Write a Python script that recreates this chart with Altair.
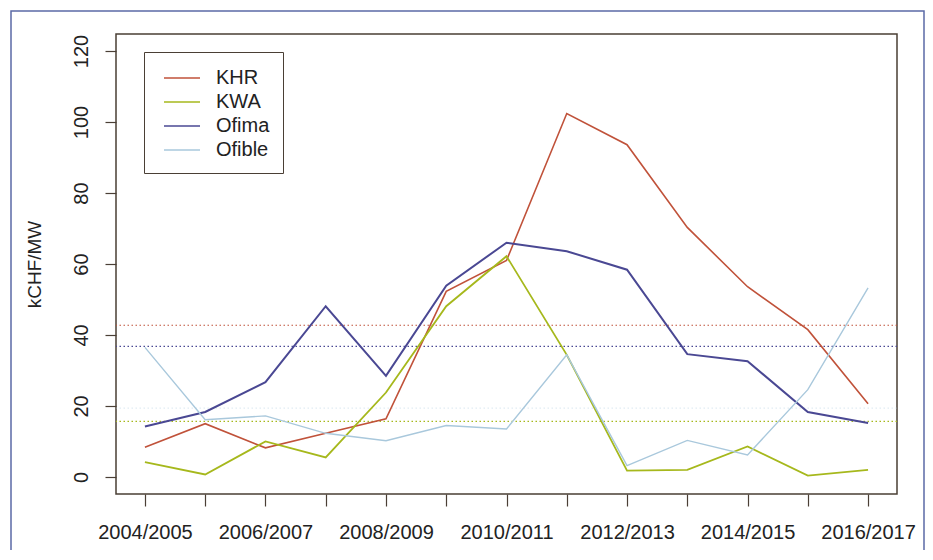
import json
import altair as alt
import pandas as pd

seasons = ["2004/2005", "2005/2006", "2006/2007", "2007/2008", "2008/2009",
           "2009/2010", "2010/2011", "2011/2012", "2012/2013", "2013/2014",
           "2014/2015", "2015/2016", "2016/2017"]
series_names = ["KHR", "KWA", "Ofima", "Ofible"]
khr = [8.4, 15.0, 8.2, 12.3, 16.4, 52.3, 61.0, 102.4, 93.6, 70.3, 53.6, 41.5, 20.6]
kwa = [4.2, 0.7, 10.0, 5.5, 23.8, 48.1, 62.2, 34.4, 1.8, 2.0, 8.6, 0.4, 2.0]
ofima = [14.2, 18.3, 26.7, 48.1, 28.5, 53.9, 66.0, 63.6, 58.4, 34.6, 32.6, 18.3, 15.2]
ofible = [36.5, 16.1, 17.2, 12.3, 10.2, 14.5, 13.5, 34.4, 3.2, 10.3, 6.2, 24.6, 53.3]
colors = ["#c0523a", "#a6b81c", "#4a4893", "#a9c8dc"]
widths = [1.6, 1.8, 2.0, 1.4]
y_ticks = [0, 20, 40, 60, 80, 100, 120]

rows = []
for name, vals in zip(series_names, [khr, kwa, ofima, ofible]):
    for i, (s, v) in enumerate(zip(seasons, vals)):
        rows.append({"season": s, "idx": i + 1, "series": name, "value": v})
df = pd.DataFrame(rows)

color_scale = alt.Scale(domain=series_names, range=colors)
x_enc = alt.X("idx:Q",
              scale=alt.Scale(domain=[0.52, 13.48], nice=False, zero=False),
              axis=alt.Axis(values=list(range(1, 14)), title=None,
                            labelExpr="datum.value % 2 == 1 ? " + json.dumps(seasons) + "[datum.value - 1] : ''",
                            labelBaseline="alphabetic", labelPadding=32, labelAlign="center",
                            tickSize=12, labelOverlap=False))
y_scale = alt.Scale(domain=[-4.8, 124.8], nice=False, zero=False)
y_axis = alt.Axis(values=y_ticks, title="kCHF/MW", labelAngle=270,
                  labelAlign="center", labelBaseline="alphabetic",
                  labelPadding=18, tickSize=11,
                  titleAngle=270, titleAlign="center", titleBaseline="alphabetic",
                  titleX=-76, titleY=230)
legend = alt.Legend(title=None, orient="none", legendX=28, legendY=18,
                    symbolType="M-0.5,0H2.5", symbolSize=576,
                    symbolStrokeWidth=1.6, labelOffset=33,
                    labelFontSize=20, labelFont="Liberation Sans",
                    labelColor="#222222", padding=13, rowPadding=1,
                    strokeColor="#4a3f35", fillColor="white")

line_layers = []
for name, w in zip(series_names, widths):
    line_layers.append(
        alt.Chart(df).transform_filter(alt.datum.series == name).mark_line(strokeWidth=w).encode(
            x=x_enc,
            y=alt.Y("value:Q", scale=y_scale, axis=y_axis),
            color=alt.Color("series:N", scale=color_scale, sort=series_names, legend=legend),
        )
    )

means = alt.Chart(df).transform_aggregate(
    mean_value="mean(value)", groupby=["series"]
).mark_rule(strokeDash=[1.5, 2.5], strokeWidth=1.2).encode(
    y=alt.Y("mean_value:Q", scale=y_scale),
    color=alt.Color("series:N", scale=color_scale, sort=series_names),
    opacity=alt.condition(alt.datum.series == "Ofible", alt.value(0.35), alt.value(1.0)),
)

frame = alt.Chart(pd.DataFrame({"a": [0]})).mark_rect(
    filled=False, stroke="#5b6aa6", strokeWidth=1.5
).encode(x=alt.value(-105), x2=alt.value(808), y=alt.value(-23), y2=alt.value(600))

chart = alt.layer(means, *line_layers, frame).properties(
    width=781, height=460,
    padding={"left": 108, "top": 26, "right": 28, "bottom": 56},
    autosize=alt.AutoSizeParams(type="none"),
).configure_view(
    stroke="#4a3f35", strokeWidth=1.5
).configure_axis(
    domain=False, grid=False, labelFont="Liberation Sans", labelFontSize=20,
    labelColor="#222222", tickColor="#4a3f35", tickWidth=1.2,
    titleFont="Liberation Sans", titleFontSize=19, titleFontWeight="normal",
    titleColor="#222222",
)

chart.save("out.html", embed_options={"renderer": "svg", "actions": False})
